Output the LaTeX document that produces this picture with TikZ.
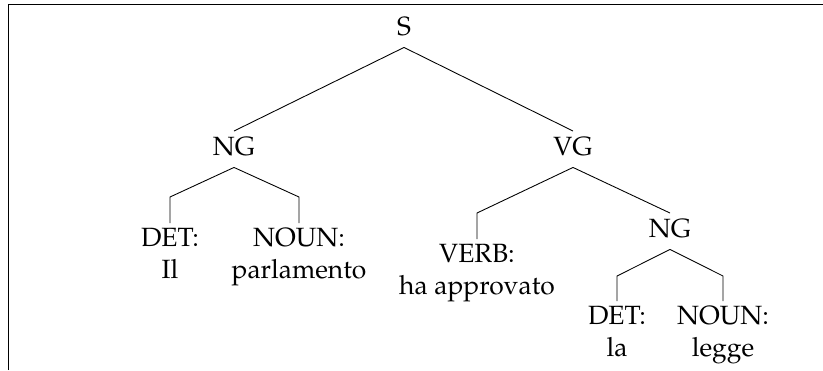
\documentclass[tikz,border=0pt,12pt]{standalone}
\usepackage[T1]{fontenc}
\usepackage{mathpazo}
\begin{document}
\begin{tikzpicture}[x=0.4545pt,y=-0.4545pt,
  inner/.style={anchor=base,inner sep=0pt,text height=10.7pt,text depth=5.45pt,font=\fontsize{12}{14.5}\selectfont},
  leaf/.style={anchor=north,inner xsep=0pt,inner ysep=2pt,align=center,font=\fontsize{12}{14.5}\selectfont},
  edge/.style={draw,line width=0.4pt}]
\useasboundingbox (0,0) rectangle (823,370);
% frame
\draw[line width=0.4pt] (8,370) -- (8,4) -- (823,4);
% nodes
\node[inner] (S) at (404,35) {S};
\node[inner] (NGa) at (234,155) {NG};
\node[inner] (VG) at (573,155) {VG};
\node[inner] (NGb) at (670,237) {NG};
\node[leaf] (DETa) at (170,223) {DET:\\Il};
\node[leaf] (NOUNa) at (299,223) {NOUN:\\parlamento};
\node[leaf] (VERB) at (477,239) {VERB:\\ha approvato};
\node[leaf] (DETb) at (617,301) {DET:\\la};
\node[leaf] (NOUNb) at (723,301) {NOUN:\\legge};
% edges
\path[edge] (S.south) -- (NGa.north);
\path[edge] (S.south) -- (VG.north);
\path[edge] (NGa.south) -- (DETa.north |- 0,197) -- (DETa.north);
\path[edge] (NGa.south) -- (NOUNa.north |- 0,197) -- (NOUNa.north);
\path[edge] (VG.south) -- (VERB.north |- 0,213) -- (VERB.north);
\path[edge] (VG.south) -- (NGb.north);
\path[edge] (NGb.south) -- (DETb.north |- 0,276) -- (DETb.north);
\path[edge] (NGb.south) -- (NOUNb.north |- 0,276) -- (NOUNb.north);
\end{tikzpicture}
\end{document}
